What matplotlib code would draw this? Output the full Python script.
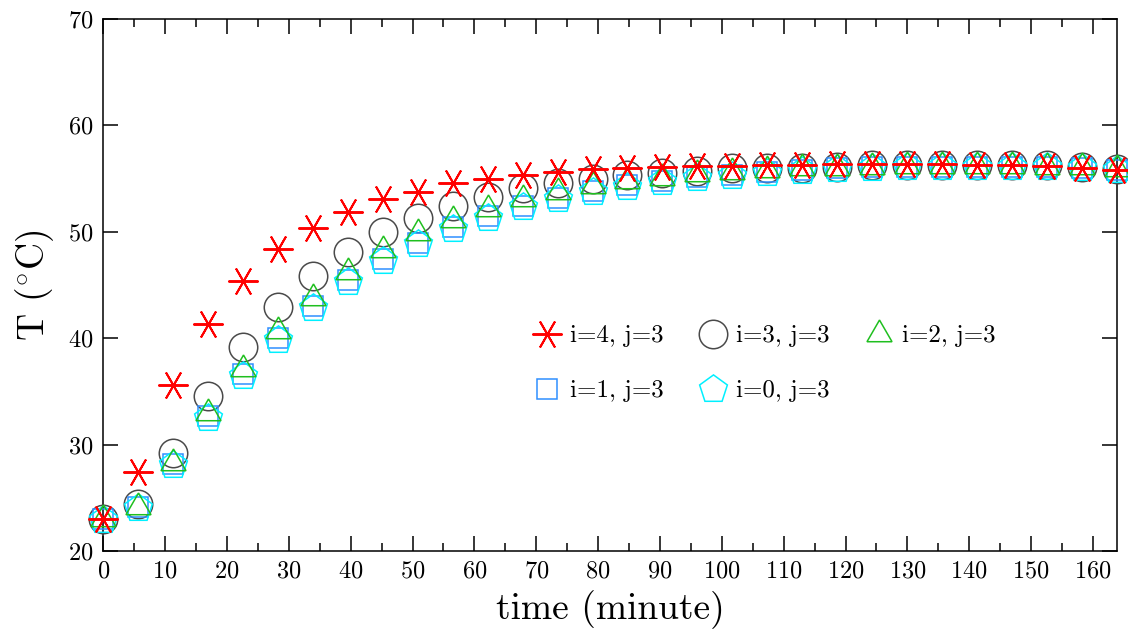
import matplotlib
matplotlib.use("Agg")
import matplotlib.pyplot as plt
from matplotlib.ticker import MultipleLocator

plt.rcParams['font.family'] = ['cmr10', 'DejaVu Serif']
plt.rcParams['mathtext.fontset'] = 'cm'
plt.rcParams['axes.formatter.use_mathtext'] = True

# time of each sample (minute)
time_min = [0.0, 5.65, 11.3, 16.95, 22.6, 28.25, 33.9, 39.55, 45.2, 50.85,
            56.5, 62.15, 67.8, 73.45, 79.1, 84.75, 90.4, 96.05, 101.7, 107.35,
            113.0, 118.65, 124.3, 129.95, 135.6, 141.25, 146.9, 152.55, 158.2, 163.85]

# temperature (C) per node
t_i4 = [23.0, 27.45, 35.6, 41.33, 45.4, 48.36, 50.39, 51.89, 53.05, 53.77,
        54.56, 54.96, 55.34, 55.65, 55.87, 55.97, 56.12, 56.15, 56.2, 56.25,
        56.28, 56.35, 56.4, 56.38, 56.35, 56.3, 56.28, 56.2, 56.0, 55.8]
t_i3 = [23.0, 24.4, 29.24, 34.6, 39.14, 42.9, 45.8, 48.13, 50.0, 51.33,
        52.42, 53.3, 54.08, 54.6, 54.93, 55.34, 55.56, 55.75, 55.97, 56.0,
        56.02, 56.12, 56.25, 56.28, 56.28, 56.28, 56.28, 56.25, 56.12, 55.9]
t_i2 = [23.0, 24.13, 28.27, 32.97, 37.12, 40.7, 43.75, 46.2, 48.27, 49.88,
        51.13, 52.16, 53.04, 53.74, 54.33, 54.76, 55.08, 55.39, 55.62, 55.8,
        55.95, 56.0, 56.1, 56.15, 56.15, 56.15, 56.15, 56.12, 56.05, 55.9]
t_i1 = [23.0, 24.1, 28.18, 32.66, 36.62, 40.02, 43.03, 45.47, 47.43, 48.98,
        50.44, 51.48, 52.47, 53.18, 53.88, 54.37, 54.75, 55.15, 55.37, 55.6,
        55.77, 55.95, 56.05, 56.1, 56.12, 56.12, 56.12, 56.1, 56.0, 55.85]
t_i0 = [22.95, 24.0, 28.05, 32.5, 36.45, 39.85, 42.85, 45.3, 47.27, 48.82,
        50.28, 51.33, 52.33, 53.05, 53.75, 54.25, 54.65, 55.05, 55.28, 55.5,
        55.7, 55.88, 56.0, 56.05, 56.08, 56.1, 56.1, 56.08, 55.98, 55.82]

labels = ['i=4, j=3', 'i=3, j=3', 'i=2, j=3', 'i=1, j=3', 'i=0, j=3']

fig = plt.figure(figsize=(11.28, 6.35), dpi=100)
ax = fig.add_axes([0.0916, 0.1323, 0.8984, 0.8378])

common = dict(linestyle='none', markerfacecolor='none', clip_on=False)
h3, = ax.plot(time_min, t_i3, marker='o', markersize=20.5, markeredgecolor='#4a4a4a',
              markeredgewidth=1.1, label=labels[1], zorder=3, **common)
h1, = ax.plot(time_min, t_i1, marker='s', markersize=14.4, markeredgecolor='#2f8fff',
              markeredgewidth=1.1, label=labels[3], zorder=4, **common)
h0, = ax.plot(time_min, t_i0, marker=(5, 0, 0), markersize=21.0, markeredgecolor='#00f0ff',
              markeredgewidth=1.1, label=labels[4], zorder=5, **common)
h2, = ax.plot(time_min, t_i2, marker=(3, 0, 0), markersize=20.8, markeredgecolor='#1fbf1f',
              markeredgewidth=1.1, label=labels[2], zorder=6, **common)
h4, = ax.plot(time_min, t_i4, marker=(6, 2, 90), markersize=21.6, markeredgecolor='#ff0000',
              markeredgewidth=1.4, label=labels[0], zorder=7, **common)

ax.set_xlim(0, 163.85)
ax.set_ylim(20, 70)
ax.xaxis.set_major_locator(MultipleLocator(10))
ax.xaxis.set_minor_locator(MultipleLocator(5))
ax.yaxis.set_major_locator(MultipleLocator(10))

ax.tick_params(which='both', direction='in', top=True, right=True, width=1.1,
               labelsize=17.5, pad=7)
ax.tick_params(which='major', length=10.8)
ax.tick_params(which='minor', length=5.5)
for s in ax.spines.values():
    s.set_linewidth(1.1)

ax.set_xlabel('time (minute)', fontsize=27, labelpad=5)
ax.set_ylabel(r'T ($^{\circ}$C)', fontsize=27, labelpad=9)

ax.legend([h4, h1, h3, h0, h2],
          [labels[0], labels[3], labels[1], labels[4], labels[2]],
          ncol=3, frameon=False, fontsize=18, loc='center',
          bbox_to_anchor=(0.653, 0.352), handlelength=1.0, handletextpad=0.42,
          columnspacing=1.46, labelspacing=1.3, borderpad=0)

fig.savefig('out.png', dpi=100)
